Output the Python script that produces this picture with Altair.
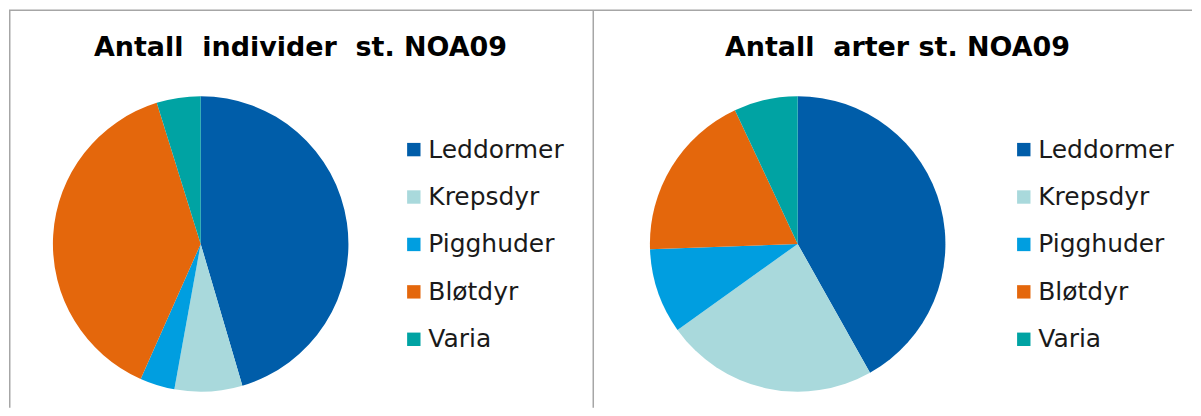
import altair as alt
import pandas as pd

groups = ["Leddormer", "Krepsdyr", "Pigghuder", "Bløtdyr", "Varia"]
colors = ["#005DA9", "#A9D9DC", "#009EE0", "#E4670C", "#00A3A3"]
individer = [45.4, 7.4, 3.8, 38.5, 4.8]
arter = [18, 10, 4, 8, 3]
titles = ["Antall\u00a0\u00a0individer\u00a0\u00a0st. NOA09", "Antall\u00a0\u00a0arter st. NOA09"]

FONT = "DejaVu Sans"
H = 400
BORDER = "#A6A6A6"


def panel(title, values, width, cx, title_x, legend_x, left_border):
    df = pd.DataFrame({"Gruppe": groups, "Verdi": values, "idx": list(range(len(groups)))})
    pie = alt.Chart(df).mark_arc(radius=148).encode(
        theta=alt.Theta("Verdi:Q", stack=True),
        order=alt.Order("idx:Q", sort="ascending"),
        color=alt.Color(
            "Gruppe:N",
            scale=alt.Scale(domain=groups, range=colors),
            legend=alt.Legend(
                title=None,
                orient="none",
                legendX=legend_x,
                legendY=129,
                symbolType="square",
                symbolSize=180,
                symbolStrokeWidth=0,
                labelFont=FONT,
                labelFontSize=25,
                labelColor="#1a1a1a",
                labelOffset=2,
                rowPadding=21.5,
                padding=0,
                labelLimit=300,
            ),
        ),
        x=alt.value(cx),
        y=alt.value(236),
    )
    ttl = alt.Chart(pd.DataFrame({"t": [title]})).mark_text(
        font=FONT, fontSize=27, fontWeight="bold", color="#000000",
        align="center", baseline="alphabetic"
    ).encode(text="t:N", x=alt.value(title_x), y=alt.value(48))
    top = alt.Chart(pd.DataFrame({"r": [0]})).mark_rule(
        color=BORDER, strokeWidth=1.5
    ).encode(x=alt.value(0), x2=alt.value(width), y=alt.value(2))
    layers = [top]
    if left_border:
        left = alt.Chart(pd.DataFrame({"r": [0]})).mark_rule(
            color=BORDER, strokeWidth=1.5
        ).encode(x=alt.value(0.75), y=alt.value(2), y2=alt.value(H))
        right = alt.Chart(pd.DataFrame({"r": [0]})).mark_rule(
            color=BORDER, strokeWidth=1.5
        ).encode(x=alt.value(width - 0.75), y=alt.value(2), y2=alt.value(H))
        layers += [left, right]
    layers += [pie, ttl]
    return alt.layer(*layers).properties(width=width, height=H)


left = panel(titles[0], individer, 586, 192, 292, 393, True)
right = panel(titles[1], arter, 599, 204, 304, 418, False)

chart = alt.hconcat(left, right, spacing=0, bounds="flush").resolve_scale(
    color="independent"
).properties(padding=0).configure_view(stroke=None)

chart.save("out.html", embed_options={"renderer": "svg", "actions": False})
